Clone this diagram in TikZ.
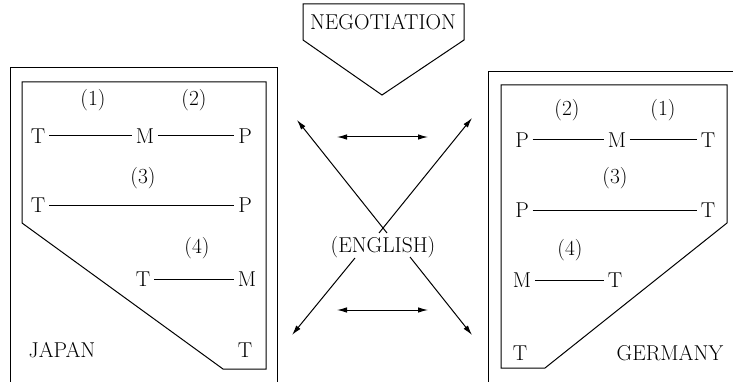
\documentclass[tikz,border=0pt]{standalone}
\usetikzlibrary{arrows.meta}
\begin{document}
\begin{tikzpicture}[x=1pt,y=-1pt,line width=1pt,
  every node/.style={font=\fontsize{21.5}{25}\selectfont},
  arr/.style={-{Latex[length=10pt,width=5.5pt]}},
  dbl/.style={{Latex[length=10pt,width=5.5pt]}-{Latex[length=10pt,width=5.5pt]}}]
\useasboundingbox (0,0) rectangle (733,382);
% frames
\draw (10,382) -- (10,68) -- (277,68) -- (277,382);
\draw (22,82) -- (266,82) -- (266,369) -- (223,369) -- (22,223) -- cycle;
\draw (488,382) -- (488,72) -- (733,72);
\draw (501,85) -- (727,85) -- (727,223) -- (545,368) -- (501,368) -- cycle;
\draw (303,4) -- (464,4) -- (464,40) -- (382,95) -- (303,40) -- cycle;
\node (neg) at (383,22) {NEGOTIATION};
% Japan
\node (jn1) at (93,100) {(1)}; \node (jn2) at (194,100) {(2)};
\node (jt1) at (38,136) {T}; \node (jm1) at (145,136) {M}; \node (jp1) at (245,136) {P};
\node (jn3) at (143,178) {(3)};
\node (jt3) at (38,205) {T}; \node (jp3) at (245,205) {P};
\node (jn4) at (197,248) {(4)};
\node (jt4) at (143,279) {T}; \node (jm4) at (247,279) {M};
\node (jt5) at (245,350) {T};
\node (japan) at (62,350) {JAPAN};
\foreach \a/\b in {jt1/jm1,jm1/jp1,jt3/jp3,jt4/jm4} \draw (\a) -- (\b);
% Germany
\node (gn2) at (567,110) {(2)}; \node (gn1) at (663,110) {(1)};
\node (gp1) at (522,140) {P}; \node (gm1) at (617,140) {M}; \node (gt1) at (708,140) {T};
\node (gn3) at (615,178) {(3)};
\node (gp3) at (522,210) {P}; \node (gt3) at (708,210) {T};
\node (gn4) at (570,250) {(4)};
\node (gm4) at (522,280) {M}; \node (gt4) at (615,280) {T};
\node (gt5) at (520,353) {T};
\node (germany) at (670,353) {GERMANY};
\foreach \a/\b in {gp1/gm1,gm1/gt1,gp3/gt3,gm4/gt4} \draw (\a) -- (\b);
% English in the middle
\node (eng) at (383,247) {(ENGLISH)};
\coordinate (xa) at (387,233); \coordinate (xb) at (379,233);
\coordinate (ul) at (297,120); \coordinate (ur) at (472,118);
\coordinate (bl0) at (355,258); \coordinate (bl) at (292,335);
\coordinate (br0) at (410,257); \coordinate (br) at (472,335);
\draw[arr] (xa) -- (ul); \draw[arr] (xb) -- (ur);
\draw[arr] (bl0) -- (bl); \draw[arr] (br0) -- (br);
\coordinate (h1a) at (337,137); \coordinate (h1b) at (428,137);
\coordinate (h2a) at (337,310); \coordinate (h2b) at (428,310);
\draw[dbl] (h1a) -- (h1b); \draw[dbl] (h2a) -- (h2b);
\end{tikzpicture}
\end{document}
